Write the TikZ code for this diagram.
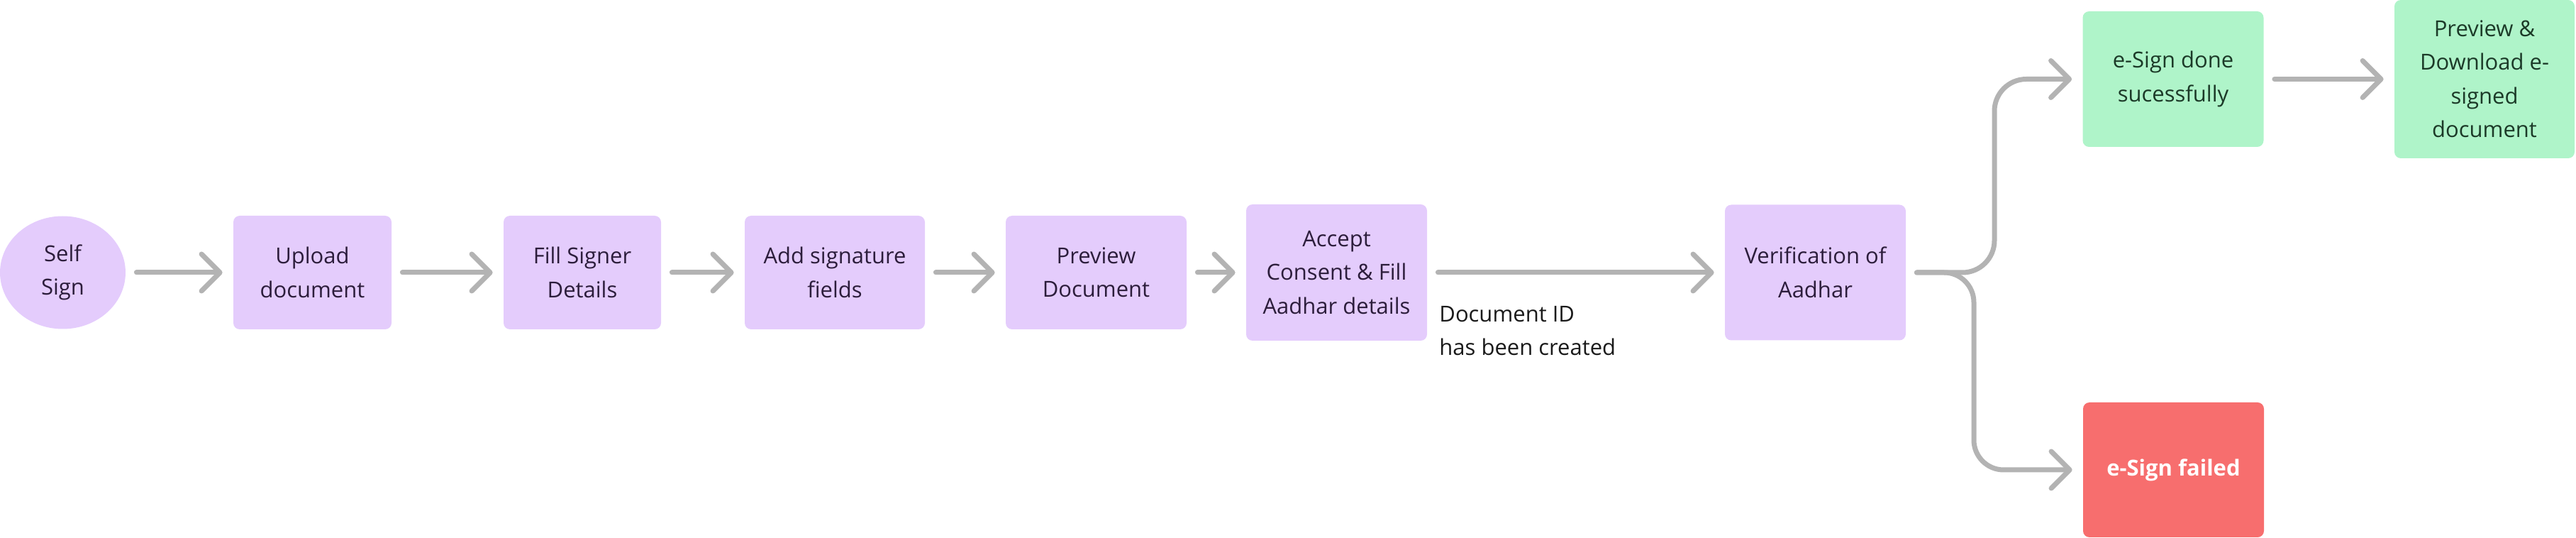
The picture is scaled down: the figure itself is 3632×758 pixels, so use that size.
\documentclass[tikz,border=0pt]{standalone}
\usepackage{fontspec}
\setmainfont{Open Sans}
\usetikzlibrary{arrows.meta,shapes.geometric}
\definecolor{boxpurple}{HTML}{E4CCFC}
\definecolor{boxgreen}{HTML}{AFF4C9}
\definecolor{boxred}{HTML}{F76E6E}
\definecolor{linegrey}{HTML}{B3B3B3}
\definecolor{txtpurple}{HTML}{2C1D3B}
\definecolor{txtgreen}{HTML}{1C3A28}
\definecolor{txtdark}{HTML}{1A1A1A}
\begin{document}
\begin{tikzpicture}[x=0.5pt,y=-0.5pt,
  every node/.style={font=\fontsize{15.5}{23.75}\selectfont, align=center, inner sep=0pt},
  pbox/.style={fill=boxpurple, text=txtpurple, rounded corners=4.5pt, minimum height=80pt},
  gbox/.style={fill=boxgreen, text=txtgreen, rounded corners=4.5pt, minimum height=95.5pt, minimum width=127.5pt},
  rbox/.style={fill=boxred, text=white, rounded corners=4.5pt, minimum height=95pt, minimum width=127.5pt, font=\fontsize{15.5}{23.75}\selectfont\bfseries},
  conn/.style={draw=linegrey, line width=3.5pt, line cap=round, line join=round,
    -{Straight Barb[length=13pt,width=26pt,line cap=round,line join=round]},
    shorten >=7.5pt, shorten <=7.5pt},
]
\useasboundingbox (0,0) rectangle (3632,758);

\node[ellipse, fill=boxpurple, text=txtpurple, minimum width=88.5pt, minimum height=79.5pt] (self) at (88.5,384) {Self\\Sign};
\node[pbox, minimum width=111.5pt] (upload) at (440.5,384) {Upload\\document};
\node[pbox, minimum width=111pt] (fill) at (821,384) {Fill Signer\\Details};
\node[pbox, minimum width=127pt] (add) at (1177,384) {Add signature\\fields};
\node[pbox, minimum width=127.5pt] (prev) at (1545.5,384) {Preview\\Document};
\node[pbox, minimum width=127.5pt, minimum height=96pt] (accept) at (1884.5,384) {Accept\\Consent \& Fill\\Aadhar details};
\node[pbox, minimum width=127.5pt, minimum height=95.5pt] (verif) at (2559.5,384) {Verification of\\Aadhar};
\node[gbox] (done) at (3064,111.5) {e-Sign done\\sucessfully};
\node[gbox, minimum width=127pt, minimum height=111.5pt] (dl) at (3503,111.5) {Preview \&\\Download e-\\signed\\document};
\node[rbox] (fail) at (3064.5,662) {e-Sign failed};

\node[anchor=west, align=left, text=txtdark] (docid) at (2029,466) {Document ID\\has been created};

\coordinate (bu) at (2812,111.5);
\coordinate (bl) at (2783,662);

\draw[conn] (self) -- (upload);
\draw[conn] (upload) -- (fill);
\draw[conn] (fill) -- (add);
\draw[conn] (add) -- (prev);
\draw[conn] (prev) -- (accept);
\draw[conn] (accept) -- (verif);
\draw[conn, rounded corners=22.5pt] (verif.east) -| (bu) -- (done.west);
\draw[conn, rounded corners=21pt] (verif.east) -| (bl) -- (fail.west);
\draw[conn] (done) -- (dl);
\end{tikzpicture}
\end{document}
